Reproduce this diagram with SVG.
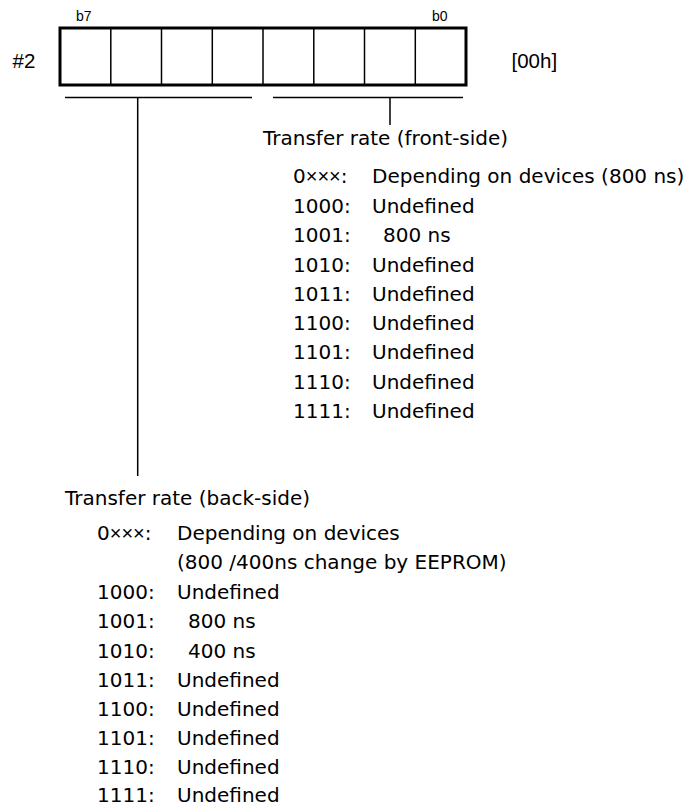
<svg xmlns="http://www.w3.org/2000/svg" width="685" height="806" viewBox="0 0 685 806">
<style>
text{font-family:"DejaVu Sans","Liberation Sans",sans-serif;fill:#000}
.t{font-size:20px}
.s{font-family:"Liberation Sans",Arial,sans-serif;font-size:14px}
.m{font-family:"Liberation Sans",Arial,sans-serif;font-size:20.5px}
.x{font-family:"Liberation Sans",Arial,sans-serif}
.frame{fill:none;stroke:#000;stroke-width:3}
.div{stroke:#000;stroke-width:1.5}
.ln{stroke:#000;stroke-width:1.5;fill:none}
</style>
<rect width="685" height="806" fill="#fff"/>
<g id="register">
<rect class="frame" x="60" y="28" width="406" height="57"/>
<line class="div" x1="110.8" y1="28" x2="110.8" y2="85"/>
<line class="div" x1="161.5" y1="28" x2="161.5" y2="85"/>
<line class="div" x1="212.3" y1="28" x2="212.3" y2="85"/>
<line class="div" x1="263" y1="28" x2="263" y2="85"/>
<line class="div" x1="313.8" y1="28" x2="313.8" y2="85"/>
<line class="div" x1="364.5" y1="28" x2="364.5" y2="85"/>
<line class="div" x1="415.3" y1="28" x2="415.3" y2="85"/>
<text class="s" x="76" y="20.7">b7</text>
<text class="s" x="432" y="20.7">b0</text>
<text class="m" x="12.5" y="68">#2</text>
<text class="m" x="511.5" y="68">[00h]</text>
</g>
<g id="connectors">
<line class="ln" x1="65" y1="97.5" x2="252" y2="97.5"/>
<line class="ln" x1="273" y1="97.5" x2="463" y2="97.5"/>
<line class="ln" x1="137.7" y1="97.5" x2="137.7" y2="476"/>
<line class="ln" x1="390" y1="97.5" x2="390" y2="125"/>
</g>
<g id="front-side">
<text class="t" x="263" y="145">Transfer rate (front-side)</text>
<text class="t" x="293" y="183">0<tspan class="x">×××</tspan>:</text><text class="t" x="372" y="183">Depending on devices (800 ns)</text>
<text class="t" x="293" y="213">1000:</text><text class="t" x="372" y="213">Undefined</text>
<text class="t" x="293" y="242">1001:</text><text class="t" x="383" y="242">800 ns</text>
<text class="t" x="293" y="272">1010:</text><text class="t" x="372" y="272">Undefined</text>
<text class="t" x="293" y="301">1011:</text><text class="t" x="372" y="301">Undefined</text>
<text class="t" x="293" y="330">1100:</text><text class="t" x="372" y="330">Undefined</text>
<text class="t" x="293" y="359">1101:</text><text class="t" x="372" y="359">Undefined</text>
<text class="t" x="293" y="389">1110:</text><text class="t" x="372" y="389">Undefined</text>
<text class="t" x="293" y="418">1111:</text><text class="t" x="372" y="418">Undefined</text>
</g>
<g id="back-side">
<text class="t" x="65" y="505">Transfer rate (back-side)</text>
<text class="t" x="97" y="540">0<tspan class="x">×××</tspan>:</text><text class="t" x="177" y="540">Depending on devices</text>
<text class="t" x="177" y="569">(800 /400ns change by EEPROM)</text>
<text class="t" x="97" y="599">1000:</text><text class="t" x="177" y="599">Undefined</text>
<text class="t" x="97" y="628">1001:</text><text class="t" x="188" y="628">800 ns</text>
<text class="t" x="97" y="658">1010:</text><text class="t" x="188" y="658">400 ns</text>
<text class="t" x="97" y="687">1011:</text><text class="t" x="177" y="687">Undefined</text>
<text class="t" x="97" y="716">1100:</text><text class="t" x="177" y="716">Undefined</text>
<text class="t" x="97" y="745">1101:</text><text class="t" x="177" y="745">Undefined</text>
<text class="t" x="97" y="774">1110:</text><text class="t" x="177" y="774">Undefined</text>
<text class="t" x="97" y="802">1111:</text><text class="t" x="177" y="802">Undefined</text>
</g>
</svg>
